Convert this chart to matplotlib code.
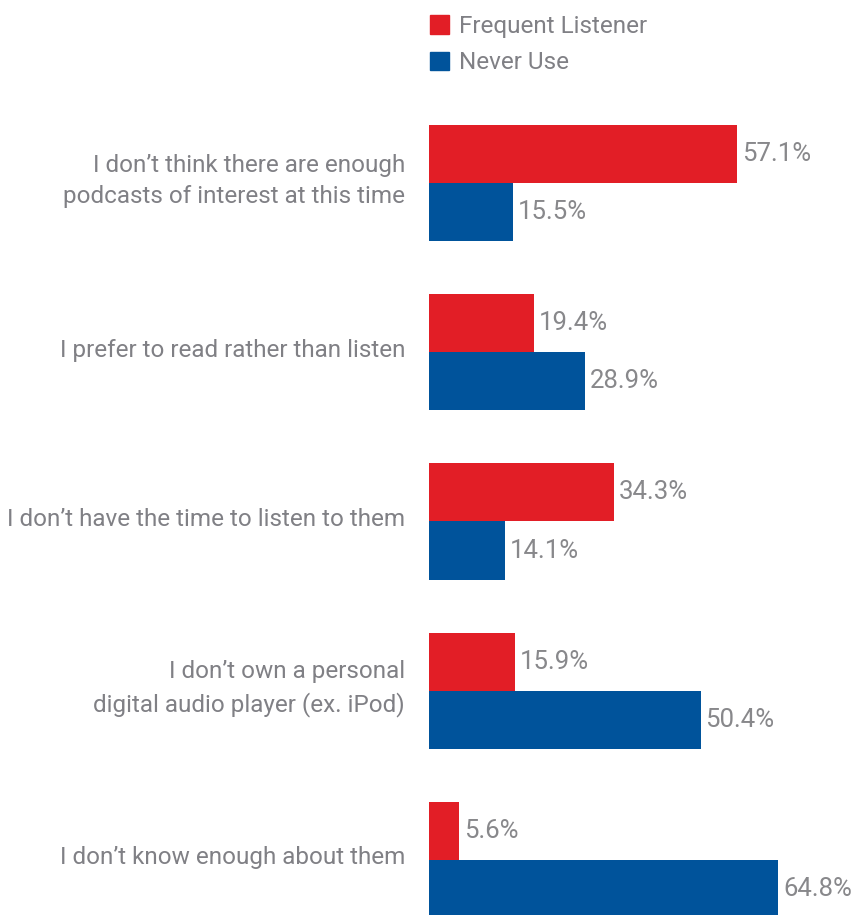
import matplotlib
matplotlib.use("Agg")
import matplotlib.pyplot as plt
import matplotlib.transforms as mtransforms
from matplotlib.patches import Patch

reasons = [
    "I don\u2019t think there are enough\npodcasts of interest at this time",
    "I prefer to read rather than listen",
    "I don\u2019t have the time to listen to them",
    "I don\u2019t own a personal\ndigital audio player (ex. iPod)",
    "I don\u2019t know enough about them",
]
frequent = [57.1, 19.4, 34.3, 15.9, 5.6]
never = [15.5, 28.9, 14.1, 50.4, 64.8]

red = "#E21E26"
blue = "#00539B"
grey = "#808085"
label_font = ["Roboto", "DejaVu Sans"]

fig = plt.figure(figsize=(8.65, 9.15), dpi=100)
ax = fig.add_axes([429 / 865, 0, 436 / 865, 1])

h = 0.343
pos = list(range(len(reasons)))
b1 = ax.barh([p - h / 2 for p in pos], frequent, height=h, color=red, label="Frequent Listener")
b2 = ax.barh([p + h / 2 for p in pos], never, height=h, color=blue, label="Never Use")

for bars, vals in ((b1, frequent), (b2, never)):
    ax.bar_label(bars, labels=["%.1f%%" % v for v in vals], padding=3.5,
                 color="#88888b", fontsize=18.5, family=label_font)

ax.set_xlim(0, 80.9)
ax.set_ylim(4.325, -1.081)
ax.set_yticks([])
ax.set_xticks([])
for s in ax.spines.values():
    s.set_visible(False)

# category labels, right aligned 24px left of the bars
trans = mtransforms.blended_transform_factory(ax.transAxes, ax.transData)
trans = trans + mtransforms.ScaledTranslation(-24 / 100, 2 / 100, fig.dpi_scale_trans)
for p, txt in zip(pos, reasons):
    ax.text(0, p, txt, transform=trans, ha="right", va="center", color=grey,
            fontsize=17.5, family=label_font, linespacing=1.45)

handles = [Patch(color=red), Patch(color=blue)]
leg = fig.legend(handles, ["Frequent Listener", "Never Use"], loc="upper left",
                 bbox_to_anchor=(430 / 865, 1 - 15 / 915), frameon=False,
                 handlelength=0.78, handleheight=0.78, handletextpad=0.4,
                 labelspacing=0.55, borderpad=0, borderaxespad=0,
                 prop={"family": label_font, "size": 17.5})
for t in leg.get_texts():
    t.set_color(grey)

fig.savefig("out.png", dpi=100)
